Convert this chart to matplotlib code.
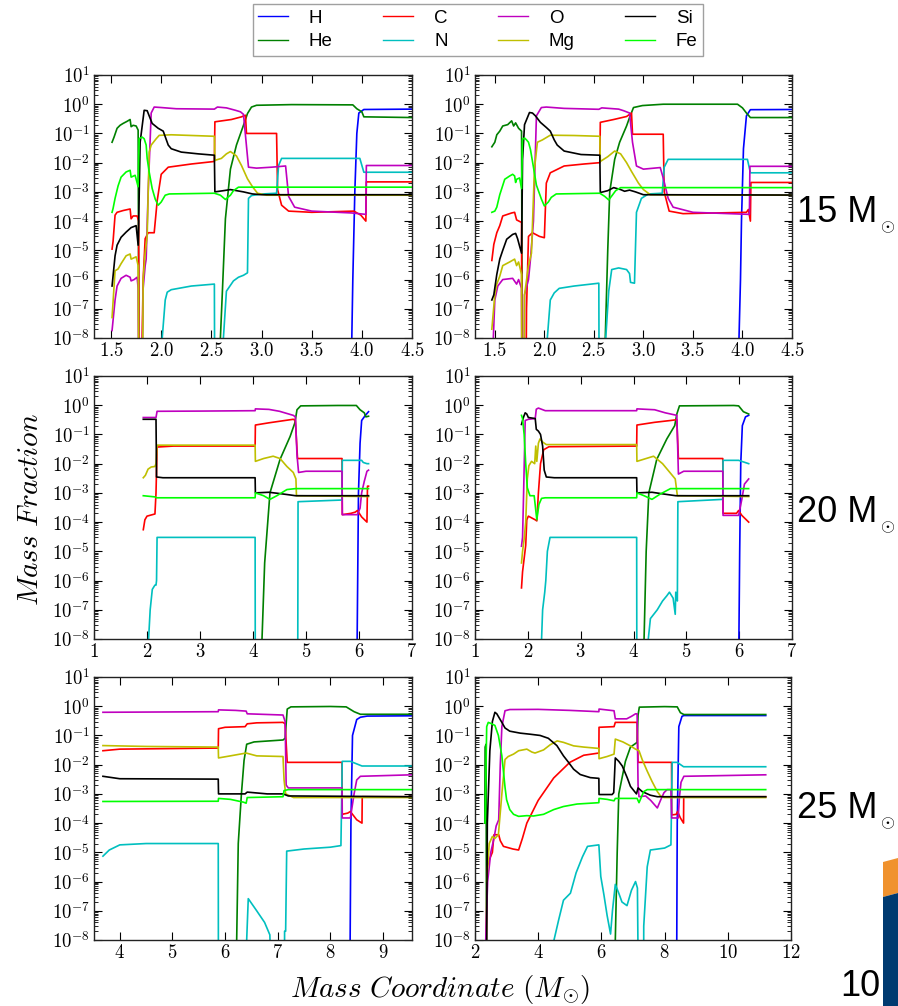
import numpy as np
import matplotlib.pyplot as plt
from matplotlib.patches import Polygon
from matplotlib.ticker import FuncFormatter, LogLocator, MultipleLocator, NullFormatter

plt.rcParams['mathtext.fontset'] = 'cm'
plt.rcParams['font.family'] = ['Liberation Sans', 'DejaVu Sans']

species = ['H', 'He', 'C', 'N', 'O', 'Mg', 'Si', 'Fe']
colors = ['b', 'g', 'r', 'c', 'm', 'y', 'k', 'lime']
OFF = 1e-12  # below the plotted range

# ---- 15 Msun, left ----
p15a = {
    'H': [(3.90, OFF), (3.90, 1e-8), (3.91, 1e-6), (3.93, 1e-3), (3.95, 0.1), (3.97, 0.5), (4.02, 0.66), (4.5, 0.68)],
    'He': [(1.51, 0.05), (1.53, 0.075), (1.56, 0.15), (1.59, 0.19), (1.62, 0.22), (1.66, 0.26), (1.69, 0.3), (1.70, 0.17),
           (1.72, 0.19), (1.75, 0.18), (1.77, 0.13), (1.78, OFF), (2.59, OFF), (2.59, 1e-8), (2.61, 4e-7), (2.64, 1.2e-4),
           (2.69, 6e-3), (2.75, 0.04), (2.82, 0.19), (2.86, 0.48), (2.90, 0.8), (2.95, 0.92), (3.3, 0.97), (3.91, 0.95),
           (3.95, 0.7), (4.0, 0.55), (4.02, 0.37), (4.5, 0.35)],
    'C': [(1.51, 1.1e-5), (1.52, 2e-5), (1.54, 1.6e-4), (1.56, 2e-4), (1.62, 2.3e-4), (1.69, 2.6e-4), (1.70, 1.2e-4),
          (1.72, 1.5e-4), (1.76, 1.5e-4), (1.775, 1e-4), (1.78, OFF), (1.79, OFF), (1.82, 1e-6), (1.84, 2.5e-5),
          (1.87, 4e-5), (1.93, 4e-5), (1.96, 5e-4), (2.0, 4e-3), (2.07, 7e-3), (2.3, 9e-3), (2.53, 1.1e-2),
          (2.535, 0.25), (2.7, 0.3), (2.8, 0.37), (2.84, 0.42), (2.85, 0.1), (3.15, 0.1), (3.16, 1.2e-3),
          (3.2, 3.5e-4), (3.27, 2.2e-4), (3.5, 2e-4), (3.92, 2.2e-4), (3.99, 1.6e-4), (4.04, 1e-4), (4.045, 2.2e-3),
          (4.5, 2.2e-3)],
    'N': [(2.01, OFF), (2.01, 1e-8), (2.04, 2e-7), (2.06, 3.7e-7), (2.1, 4.5e-7), (2.3, 6e-7), (2.53, 7e-7), (2.535, OFF),
          (2.62, OFF), (2.62, 1e-8), (2.65, 4e-7), (2.72, 9e-7), (2.77, 1.2e-6), (2.82, 1.4e-6), (2.86, 1.7e-6),
          (2.87, 6e-4), (2.9, 7.5e-4), (3.01, 8.5e-4), (3.15, 9e-4), (3.17, 8e-3), (3.2, 1.4e-2), (3.98, 1.4e-2),
          (4.02, 4.7e-3), (4.5, 4.7e-3)],
    'O': [(1.51, 1.8e-8), (1.54, 2e-7), (1.56, 6e-7), (1.6, 1.1e-6), (1.65, 1.4e-6), (1.69, 1.2e-6), (1.70, 9e-7),
          (1.73, 1e-6), (1.76, 1.2e-6), (1.77, 5e-7), (1.78, OFF), (1.80, OFF), (1.82, 5e-7), (1.84, 3e-6),
          (1.85, 5e-6), (1.87, 1e-3), (1.9, 0.5), (1.93, 0.8), (2.0, 0.77), (2.15, 0.7), (2.53, 0.68), (2.56, 0.8),
          (2.65, 0.75), (2.74, 0.62), (2.79, 0.55), (2.82, 0.45), (2.87, 7e-3), (2.95, 6.5e-3), (3.1, 7e-3),
          (3.24, 7.7e-3), (3.27, 7e-4), (3.33, 3e-4), (3.5, 2.2e-4), (3.9, 1.9e-4), (4.04, 1.7e-4), (4.045, 8e-3),
          (4.5, 8e-3)],
    'Mg': [(1.51, 5e-8), (1.54, 2e-6), (1.57, 2.3e-6), (1.6, 3.5e-6), (1.65, 6.5e-6), (1.69, 7.5e-6), (1.70, 5e-6),
           (1.75, 6e-6), (1.77, 3e-6), (1.78, OFF), (1.81, OFF), (1.82, 1e-6), (1.84, 8e-6), (1.86, 3e-5),
           (1.88, 2.3e-2), (1.9, 4e-2), (1.95, 0.066), (1.98, 0.086), (2.1, 0.09), (2.53, 0.08), (2.535, 1.2e-2),
           (2.6, 1.4e-2), (2.65, 2e-2), (2.69, 2.4e-2), (2.75, 1.7e-2), (2.8, 8e-3), (2.86, 2.8e-3), (2.91, 1.5e-3),
           (2.96, 9e-4), (3.05, 7.7e-4), (4.5, 7.7e-4)],
    'Si': [(1.51, 6e-7), (1.54, 6.5e-6), (1.56, 1.5e-5), (1.6, 2.8e-5), (1.65, 4.2e-5), (1.7, 6e-5), (1.75, 7e-5),
           (1.77, 1.5e-5), (1.775, 7e-5), (1.79, 0.05), (1.83, 0.62), (1.86, 0.6), (1.88, 0.4), (1.91, 0.22),
           (1.97, 0.15), (2.02, 0.12), (2.07, 0.04), (2.1, 0.03), (2.2, 0.023), (2.37, 0.02), (2.53, 0.018),
           (2.535, 1e-3), (2.62, 1.1e-3), (2.69, 1.2e-3), (2.82, 1e-3), (2.91, 8.5e-4), (3.0, 8e-4), (4.5, 8e-4)],
    'Fe': [(1.51, 2e-4), (1.52, 2.7e-4), (1.54, 6e-4), (1.57, 1.6e-3), (1.6, 3.2e-3), (1.65, 4.8e-3), (1.69, 5.5e-3),
           (1.70, 3.2e-3), (1.74, 3.7e-3), (1.77, 1.5e-3), (1.78, 0.066), (1.81, 0.075), (1.83, 0.066), (1.85, 0.04),
           (1.86, 0.014), (1.88, 4.8e-3), (1.91, 1.3e-3), (1.94, 5.7e-4), (1.97, 3.5e-4), (2.0, 4.5e-4),
           (2.04, 7.7e-4), (2.08, 8.5e-4), (2.53, 9e-4), (2.59, 7.7e-4), (2.64, 5.5e-4), (2.69, 7.7e-4),
           (2.72, 1.1e-3), (2.77, 1.45e-3), (4.5, 1.45e-3)],
}

# ---- 15 Msun, right ----
p15b = {
    'H': [(3.96, OFF), (3.965, 1e-8), (3.98, 1e-6), (3.99, 1e-4), (4.01, 3e-2), (4.04, 0.4), (4.08, 0.65), (4.5, 0.66)],
    'He': [(1.47, 0.035), (1.5, 0.05), (1.52, 0.09), (1.55, 0.12), (1.58, 0.18), (1.63, 0.2), (1.67, 0.27), (1.69, 0.18),
           (1.71, 0.23), (1.74, 0.15), (1.77, 0.12), (1.78, OFF), (2.6, OFF), (2.615, 1e-8), (2.64, 1e-5),
           (2.66, 1e-3), (2.71, 1.3e-2), (2.76, 5e-2), (2.83, 0.18), (2.86, 0.35), (2.9, 0.77), (2.99, 0.9),
           (3.2, 1.0), (3.95, 1.0), (4.0, 0.75), (4.04, 0.5), (4.08, 0.35), (4.5, 0.35)],
    'C': [(1.47, 4.5e-6), (1.49, 1.6e-5), (1.52, 4e-5), (1.55, 7e-5), (1.58, 1.5e-4), (1.67, 1.9e-4), (1.7, 2e-4),
          (1.72, 1.1e-4), (1.77, 9e-5), (1.775, OFF), (1.81, OFF), (1.82, 1e-7), (1.84, 3e-5), (1.88, 4e-5),
          (1.95, 3e-5), (2.0, 2.7e-5), (2.02, 2e-3), (2.06, 4.5e-3), (2.2, 7.7e-3), (2.4, 9e-3), (2.56, 1e-2),
          (2.565, 0.24), (2.7, 0.3), (2.83, 0.38), (2.88, 0.5), (2.89, 0.094), (3.2, 0.094), (3.21, 1e-3),
          (3.26, 2.2e-4), (3.4, 1.8e-4), (4.04, 2e-4), (4.06, 2.5e-4), (4.08, 1e-4), (4.085, 2.1e-3), (4.5, 2.1e-3)],
    'N': [(2.02, OFF), (2.03, 1e-8), (2.06, 2e-7), (2.1, 3.5e-7), (2.15, 5e-7), (2.3, 6e-7), (2.55, 7.5e-7), (2.555, OFF),
          (2.61, OFF), (2.62, 1e-8), (2.65, 4e-7), (2.68, 2.2e-6), (2.75, 2.5e-6), (2.83, 2.2e-6), (2.86, 1.6e-6),
          (2.87, 8e-7), (2.91, 7.5e-7), (2.93, 2e-4), (2.98, 6e-4), (3.05, 8.5e-4), (3.19, 9e-4), (3.21, 7e-3),
          (3.25, 1.3e-2), (4.05, 1.3e-2), (4.08, 4.5e-3), (4.5, 4.5e-3)],
    'O': [(1.48, OFF), (1.485, 1e-8), (1.5, 2e-7), (1.53, 6e-7), (1.58, 1e-6), (1.68, 1.1e-6), (1.72, 7e-7),
          (1.74, 1e-6), (1.77, 5e-7), (1.775, OFF), (1.79, OFF), (1.8, 3e-7), (1.84, 1e-6), (1.86, 5e-6),
          (1.89, 1e-4), (1.92, 0.4), (1.97, 0.77), (2.02, 0.8), (2.2, 0.72), (2.55, 0.67), (2.58, 0.75),
          (2.75, 0.68), (2.8, 0.6), (2.86, 0.5), (2.89, 0.05), (2.93, 7.7e-3), (3.0, 6e-3), (3.17, 6.8e-3),
          (3.2, 3e-3), (3.25, 6e-4), (3.3, 3e-4), (3.5, 2e-4), (4.07, 1.7e-4), (4.075, 7.5e-3), (4.5, 7.5e-3)],
    'Mg': [(1.47, 2e-8), (1.5, 3e-7), (1.52, 7e-7), (1.55, 1.3e-6), (1.58, 3e-6), (1.65, 4e-6), (1.7, 5e-6),
           (1.72, 3e-6), (1.74, 4e-6), (1.77, 1.5e-6), (1.775, OFF), (1.79, OFF), (1.8, 3e-7), (1.84, 3e-6),
           (1.87, 8e-6), (1.9, 6e-3), (1.93, 0.05), (1.98, 0.06), (2.06, 0.087), (2.3, 0.085), (2.56, 0.08),
           (2.565, 0.011), (2.64, 0.016), (2.71, 0.025), (2.77, 0.02), (2.83, 0.01), (2.88, 5e-3), (2.95, 2e-3),
           (3.0, 1.2e-3), (3.07, 8e-4), (4.5, 7.7e-4)],
    'Si': [(1.47, 2e-7), (1.49, 3e-7), (1.52, 1.5e-6), (1.55, 5e-6), (1.58, 1e-5), (1.62, 2.4e-5), (1.68, 3.5e-5),
           (1.71, 3.8e-5), (1.73, 2.5e-5), (1.75, 1.4e-5), (1.77, 8e-6), (1.78, 1.3e-2), (1.8, 0.2), (1.85, 0.52),
           (1.88, 0.5), (1.91, 0.4), (1.96, 0.24), (2.02, 0.16), (2.06, 0.12), (2.1, 0.06), (2.13, 0.04),
           (2.2, 0.025), (2.37, 0.019), (2.56, 0.018), (2.565, 9.5e-4), (2.64, 1.1e-3), (2.7, 1.4e-3),
           (2.77, 1.2e-3), (2.81, 1.05e-3), (2.86, 1.15e-3), (2.92, 1e-3), (3.0, 8e-4), (4.5, 7.8e-4)],
    'Fe': [(1.47, 2e-4), (1.5, 2.2e-4), (1.52, 3e-4), (1.55, 8e-4), (1.57, 1.3e-3), (1.6, 2.7e-3), (1.65, 3.5e-3),
           (1.68, 4e-3), (1.7, 3.5e-3), (1.71, 2.1e-3), (1.72, 2.7e-3), (1.75, 3e-3), (1.77, 1.3e-3), (1.78, 0.063),
           (1.8, 0.07), (1.82, 0.06), (1.84, 0.05), (1.86, 0.028), (1.89, 7e-3), (1.92, 1.7e-3), (1.97, 5.7e-4),
           (2.0, 3.3e-4), (2.04, 4.5e-4), (2.07, 6.5e-4), (2.12, 8.5e-4), (2.56, 9e-4), (2.61, 7e-4),
           (2.65, 5.3e-4), (2.69, 8e-4), (2.72, 1.1e-3), (2.77, 1.4e-3), (4.5, 1.4e-3)],
}

# ---- 20 Msun, left ----
p20a = {
    'H': [(5.96, OFF), (5.965, 1e-8), (5.98, 1e-5), (5.99, 1e-3), (6.02, 0.05), (6.05, 0.3), (6.12, 0.45), (6.18, 0.6)],
    'He': [(4.16, OFF), (4.17, 1e-8), (4.22, 4e-6), (4.32, 1e-3), (4.51, 1.4e-2), (4.7, 8.5e-2), (4.79, 0.25),
           (4.83, 0.7), (4.9, 0.95), (5.6, 0.98), (5.95, 0.98), (6.02, 0.7), (6.1, 0.55), (6.13, 0.4), (6.18, 0.42)],
    'C': [(1.93, 5.5e-5), (1.96, 1.2e-4), (2.0, 1.6e-4), (2.15, 1.9e-4), (2.17, 1e-3), (2.19, 0.037), (2.5, 0.04),
          (4.04, 0.04), (4.045, 0.21), (4.3, 0.25), (4.6, 0.3), (4.76, 0.33), (4.8, 0.3), (4.84, 0.015),
          (5.68, 0.015), (5.685, 1.8e-4), (5.85, 2e-4), (5.93, 2.2e-4), (5.97, 2.5e-4), (6.05, 1.5e-4),
          (6.15, 1e-4), (6.16, 1.7e-3), (6.18, 1.7e-3)],
    'N': [(2.02, OFF), (2.03, 1e-8), (2.06, 1e-7), (2.1, 5e-7), (2.15, 7e-7), (2.17, 7e-7), (2.18, 1e-6), (2.19, 3e-5),
          (4.04, 3e-5), (4.045, OFF), (4.84, OFF), (4.845, 1e-8), (4.85, 5e-4), (5.68, 5.7e-4), (5.685, 1.3e-2),
          (6.05, 1.3e-2), (6.08, 1.1e-2), (6.15, 1.0e-2), (6.18, 1.0e-2)],
    'O': [(1.93, 0.38), (2.17, 0.38), (2.19, 0.62), (3.0, 0.63), (4.04, 0.65), (4.045, 0.75), (4.3, 0.72),
          (4.5, 0.62), (4.76, 0.45), (4.8, 0.4), (4.83, 0.02), (4.86, 5e-3), (5.0, 5.5e-3), (5.68, 5.5e-3),
          (5.685, 1.8e-4), (5.97, 1.8e-4), (6.02, 3e-4), (6.05, 1e-3), (6.1, 2.5e-3), (6.15, 5.5e-3), (6.18, 6e-3)],
    'Mg': [(1.93, 3.3e-3), (1.97, 4e-3), (2.02, 6.5e-3), (2.08, 7.7e-3), (2.15, 8e-3), (2.17, 1e-2), (2.19, 0.043),
           (4.04, 0.043), (4.045, 0.012), (4.2, 0.015), (4.38, 0.018), (4.51, 0.015), (4.64, 8e-3), (4.76, 5e-3),
           (4.81, 3e-3), (4.82, 8e-4), (6.18, 7.5e-4)],
    'Si': [(1.93, 0.33), (2.17, 0.33), (2.18, 3.5e-3), (2.3, 3.3e-3), (4.04, 3.3e-3), (4.045, 1e-3), (4.3, 1.05e-3),
           (4.5, 9.5e-4), (4.7, 8.5e-4), (4.8, 8e-4), (6.18, 8e-4)],
    'Fe': [(1.93, 8e-4), (2.15, 7.3e-4), (2.18, 6.8e-4), (4.04, 6.8e-4), (4.045, 1e-3), (4.2, 8e-4), (4.32, 6e-4),
           (4.45, 8e-4), (4.64, 1.3e-3), (4.8, 1.4e-3), (6.18, 1.4e-3)],
}

# ---- 20 Msun, right ----
p20b = {
    'H': [(5.99, OFF), (5.995, 1e-8), (6.01, 1e-5), (6.03, 1e-2), (6.06, 0.2), (6.12, 0.4), (6.18, 0.45)],
    'He': [(4.19, OFF), (4.2, 1e-8), (4.24, 1e-5), (4.29, 1e-3), (4.44, 1.4e-2), (4.63, 7e-2), (4.78, 0.2),
           (4.82, 0.5), (4.87, 0.95), (5.9, 0.98), (5.99, 0.95), (6.08, 0.6), (6.18, 0.5)],
    'C': [(1.88, 5.6e-7), (1.9, 2e-6), (1.92, 4e-6), (1.96, 1.6e-5), (1.98, 1.2e-4), (2.01, 1.6e-4), (2.07, 1.4e-4),
          (2.14, 1.2e-4), (2.17, 1.1e-4), (2.2, 1e-3), (2.24, 1e-2), (2.3, 3e-2), (2.4, 0.038), (4.06, 0.04),
          (4.065, 0.21), (4.4, 0.26), (4.7, 0.3), (4.82, 0.32), (4.85, 0.015), (5.69, 0.015), (5.695, 2e-4),
          (5.95, 2e-4), (5.99, 2.5e-4), (6.05, 1.7e-4), (6.18, 1e-4)],
    'N': [(2.25, OFF), (2.26, 1e-8), (2.28, 1e-7), (2.32, 4e-7), (2.34, 1e-6), (2.37, 1e-5), (2.42, 3e-5), (4.06, 3e-5),
          (4.065, OFF), (4.27, OFF), (4.28, 1e-8), (4.32, 5e-8), (4.45, 1e-7), (4.55, 2e-7), (4.63, 3e-7),
          (4.68, 4e-7), (4.75, 2.5e-7), (4.79, 7e-8), (4.8, 4e-7), (4.83, 2e-7), (4.84, 5e-4), (5.69, 6e-4),
          (5.695, 1.3e-2), (5.99, 1.3e-2), (6.18, 1e-2)],
    'O': [(1.88, 1.5e-5), (1.9, 3e-5), (1.92, 1e-3), (1.95, 0.3), (2.01, 0.33), (2.14, 0.35), (2.16, 0.73),
          (2.2, 0.8), (2.33, 0.65), (4.06, 0.65), (4.065, 0.75), (4.4, 0.7), (4.6, 0.55), (4.82, 0.45),
          (4.85, 4.4e-3), (4.95, 5.5e-3), (5.69, 5.5e-3), (5.695, 1.7e-4), (5.99, 1.7e-4), (6.05, 6e-4),
          (6.1, 2e-3), (6.18, 3e-3)],
    'Mg': [(1.88, 4e-6), (1.9, 1e-5), (1.93, 2.6e-5), (1.96, 1e-4), (1.99, 3e-3), (2.02, 8.5e-3), (2.07, 1.2e-2),
           (2.13, 1e-2), (2.15, 4e-2), (2.17, 1.2e-2), (2.2, 0.05), (2.23, 0.07), (2.28, 0.055), (2.35, 0.045),
           (4.06, 0.045), (4.065, 0.012), (4.38, 0.018), (4.55, 0.01), (4.79, 3e-3), (4.83, 8e-4), (6.18, 7.5e-4)],
    'Si': [(1.88, 0.22), (1.92, 0.4), (1.95, 0.55), (1.98, 0.5), (2.01, 0.38), (2.14, 0.35), (2.16, 0.15),
           (2.2, 0.13), (2.24, 0.1), (2.28, 0.04), (2.31, 6e-3), (2.35, 3.5e-3), (2.5, 3.3e-3), (4.06, 3.3e-3),
           (4.065, 1e-3), (4.35, 1.05e-3), (4.6, 9e-4), (4.8, 8e-4), (6.18, 8e-4)],
    'Fe': [(1.88, 0.45), (1.9, 0.35), (1.93, 0.1), (1.96, 0.01), (1.99, 1.5e-3), (2.04, 8e-4), (2.12, 8e-4),
           (2.17, 1.2e-4), (2.21, 4e-4), (2.26, 6.5e-4), (2.33, 6.8e-4), (4.06, 6.8e-4), (4.065, 1e-3), (4.2, 8e-4),
           (4.35, 6e-4), (4.5, 9e-4), (4.7, 1.4e-3), (6.18, 1.4e-3)],
}

# ---- 25 Msun, left ----
p25a = {
    'H': [(8.37, OFF), (8.375, 1e-8), (8.39, 1e-4), (8.42, 0.1), (8.5, 0.35), (8.57, 0.42), (8.7, 0.46), (9.55, 0.47)],
    'He': [(6.21, OFF), (6.22, 1e-8), (6.25, 2e-5), (6.31, 1e-3), (6.36, 1.4e-2), (6.41, 5e-2), (6.55, 6e-2),
           (7.1, 7e-2), (7.14, 8e-2), (7.18, 0.8), (7.25, 0.95), (8.0, 0.98), (8.3, 0.95), (8.45, 0.65),
           (8.57, 0.53), (9.55, 0.53)],
    'C': [(3.68, 0.03), (4.0, 0.034), (5.87, 0.037), (5.875, 0.17), (6.0, 0.19), (6.38, 0.2), (6.42, 0.25),
          (6.6, 0.27), (7.1, 0.28), (7.14, 0.25), (7.18, 0.012), (8.22, 0.012), (8.225, 2e-4), (8.33, 2.2e-4),
          (8.38, 2.5e-4), (8.42, 2e-4), (8.5, 1.3e-4), (8.6, 1e-4), (8.605, 8e-4), (9.55, 8e-4)],
    'N': [(3.68, 7.4e-6), (3.8, 1.2e-5), (4.0, 1.8e-5), (4.5, 2e-5), (5.87, 2e-5), (5.875, OFF), (6.4, OFF),
          (6.41, 1e-8), (6.44, 2.6e-7), (6.6, 1e-7), (6.75, 4e-8), (6.85, 1.5e-8), (6.92, OFF), (7.12, OFF),
          (7.13, 2e-8), (7.15, 2e-8), (7.17, 1.1e-5), (7.5, 1.3e-5), (8.0, 1.5e-5), (8.2, 1.7e-5), (8.225, 1.3e-2),
          (8.38, 1.3e-2), (8.6, 9e-3), (9.55, 9e-3)],
    'O': [(3.68, 0.62), (5.87, 0.65), (5.875, 0.75), (6.2, 0.72), (6.4, 0.68), (6.42, 0.55), (7.1, 0.5),
          (7.14, 0.3), (7.16, 2e-3), (7.2, 1.6e-3), (8.22, 1.6e-3), (8.225, 1.5e-4), (8.38, 1.5e-4), (8.45, 1e-3),
          (8.5, 3e-3), (8.57, 4e-3), (9.55, 4.5e-3)],
    'Mg': [(3.68, 0.045), (4.5, 0.042), (5.87, 0.04), (5.875, 0.017), (6.1, 0.02), (6.4, 0.025), (6.6, 0.02),
           (7.1, 0.019), (7.12, 3e-3), (7.15, 1e-3), (7.3, 7.5e-4), (9.55, 7.5e-4)],
    'Si': [(3.68, 4e-3), (4.0, 3.3e-3), (5.87, 3.2e-3), (5.875, 1e-3), (6.38, 1e-3), (6.42, 1.15e-3), (6.8, 1e-3),
           (7.1, 1e-3), (7.2, 8.5e-4), (9.55, 8e-4)],
    'Fe': [(3.68, 5.5e-4), (5.87, 5.6e-4), (5.875, 7e-4), (6.1, 6.5e-4), (6.35, 5.2e-4), (6.4, 4.8e-4),
           (6.42, 7.5e-4), (7.1, 8e-4), (7.12, 1.3e-3), (7.2, 1.4e-3), (9.55, 1.4e-3)],
}

# ---- 25 Msun, right ----
p25b = {
    'H': [(8.38, OFF), (8.385, 1e-8), (8.4, 1e-4), (8.45, 0.2), (8.55, 0.45), (8.61, 0.48), (11.2, 0.48)],
    'He': [(2.31, 1e-4), (2.32, 0.04), (2.35, 0.05), (2.37, OFF), (6.43, OFF), (6.44, 1e-8), (6.5, 1e-5),
           (6.55, 1e-3), (6.76, 1.3e-2), (6.92, 4e-2), (7.13, 5.8e-2), (7.16, 0.5), (7.2, 0.93), (8.0, 0.97),
           (8.4, 0.95), (8.5, 0.6), (8.61, 0.52), (11.2, 0.52)],
    'C': [(2.35, OFF), (2.36, 1e-8), (2.38, 3e-6), (2.45, 5.5e-6), (2.55, 1e-5), (2.6, 4e-5), (2.75, 4e-5),
          (2.8, 2.5e-5), (2.9, 1.6e-5), (3.2, 1.3e-5), (3.38, 1.2e-5), (3.5, 3e-5), (3.64, 1e-4), (4.0, 6e-4),
          (4.49, 3.5e-3), (5.0, 1.2e-2), (5.44, 2.1e-2), (5.92, 2.5e-2), (5.925, 0.19), (6.4, 0.2), (6.44, 0.28),
          (7.13, 0.28), (7.16, 0.012), (8.22, 0.012), (8.225, 1.9e-4), (8.37, 2e-4), (8.41, 2.5e-4), (8.5, 1.5e-4),
          (8.6, 1e-4), (8.605, 8e-4), (11.2, 8e-4)],
    'N': [(4.49, OFF), (4.5, 1e-8), (4.65, 5e-8), (4.8, 2.3e-7), (5.02, 4e-7), (5.2, 2e-6), (5.4, 7e-6),
          (5.56, 1.6e-5), (5.92, 1.8e-5), (5.98, 1.5e-6), (6.08, 3.5e-7), (6.18, 7e-8), (6.29, 1.6e-8),
          (6.35, 1e-7), (6.44, 8e-7), (6.55, 4e-7), (6.65, 2e-7), (6.81, 1.5e-7), (6.95, 5e-7), (7.08, 1e-6),
          (7.14, 6e-7), (7.19, OFF), (7.33, OFF), (7.34, 3e-8), (7.45, 3.2e-6), (7.55, 1.2e-5), (8.0, 1.4e-5),
          (8.2, 1.8e-5), (8.24, 1.2e-2), (8.4, 1.2e-2), (8.6, 8.5e-3), (11.2, 8.5e-3)],
    'O': [(2.33, OFF), (2.34, 1e-8), (2.4, 1e-6), (2.5, 1e-5), (2.6, 3e-5), (2.67, 8e-5), (2.75, 1.3e-4),
          (2.8, 0.01), (2.85, 0.2), (2.95, 0.7), (3.1, 0.77), (4.0, 0.78), (5.0, 0.72), (5.92, 0.65),
          (5.925, 0.8), (6.4, 0.7), (6.44, 0.37), (6.8, 0.37), (6.95, 0.45), (7.08, 0.55), (7.13, 0.55),
          (7.16, 2e-3), (7.19, 8e-4), (7.4, 8.5e-4), (7.56, 6e-4), (7.77, 3.3e-4), (7.87, 6e-4), (7.98, 1.1e-3),
          (8.08, 1.4e-3), (8.2, 1.4e-3), (8.225, 1.5e-4), (8.43, 1.5e-4), (8.47, 8e-4), (8.52, 2.5e-3),
          (8.61, 4e-3), (11.2, 4.5e-3)],
    'Mg': [(2.37, 1e-6), (2.45, 2e-5), (2.55, 3.5e-5), (2.63, 3e-5), (2.74, 4e-5), (2.85, 1e-3), (2.95, 1.5e-2),
           (3.05, 1.9e-2), (3.22, 2.3e-2), (3.38, 3e-2), (3.64, 3.4e-2), (3.8, 2.7e-2), (3.9, 2.5e-2),
           (4.17, 3.2e-2), (4.38, 4.8e-2), (4.6, 6.5e-2), (4.8, 5.8e-2), (5.12, 4.4e-2), (5.44, 4e-2),
           (5.92, 3.6e-2), (5.925, 1.6e-2), (6.18, 1.9e-2), (6.4, 2.3e-2), (6.44, 7.5e-2), (6.68, 6e-2),
           (6.9, 4.5e-2), (7.08, 3.4e-2), (7.19, 3e-2), (7.29, 1.5e-2), (7.45, 6e-3), (7.6, 2.7e-3),
           (7.77, 1.2e-3), (7.87, 8.5e-4), (7.98, 7.5e-4), (11.2, 7.5e-4)],
    'Si': [(2.35, OFF), (2.37, 1e-8), (2.39, 1e-4), (2.47, 0.03), (2.55, 0.3), (2.63, 0.62), (2.69, 0.55),
           (2.85, 0.28), (2.95, 0.18), (3.1, 0.14), (3.43, 0.12), (3.75, 0.11), (4.06, 0.1), (4.32, 0.08),
           (4.59, 0.045), (4.8, 0.02), (4.96, 0.012), (5.12, 7e-3), (5.33, 4.6e-3), (5.65, 3.6e-3),
           (5.92, 3.4e-3), (5.925, 9.5e-4), (6.34, 9.5e-4), (6.39, 1.1e-3), (6.44, 1.7e-2), (6.55, 1.3e-2),
           (6.66, 9e-3), (6.82, 3.5e-3), (6.92, 1.8e-3), (7.05, 1.2e-3), (7.11, 1e-3), (7.16, 1.6e-3),
           (7.29, 1.2e-3), (7.55, 9e-4), (7.77, 8e-4), (11.2, 8e-4)],
    'Fe': [(2.32, 1e-4), (2.37, 0.2), (2.42, 0.28), (2.53, 0.25), (2.63, 0.22), (2.74, 0.1), (2.85, 0.02),
           (2.95, 1.7e-3), (3.0, 6.3e-4), (3.1, 2.9e-4), (3.22, 2e-4), (3.38, 1.7e-4), (3.64, 1.8e-4),
           (3.85, 1.75e-4), (4.17, 2e-4), (4.49, 2.9e-4), (4.8, 3.7e-4), (5.23, 4.5e-4), (5.92, 5e-4),
           (5.925, 7e-4), (6.18, 6.5e-4), (6.4, 5.8e-4), (6.44, 7e-4), (7.13, 7e-4), (7.19, 5e-4), (7.34, 1.2e-3),
           (7.45, 1.4e-3), (11.2, 1.4e-3)],
}

# panel data, x ranges and tick steps, positions in pixels (left, top, right, bottom)
panels = [p15a, p15b, p20a, p20b, p25a, p25b]
xlims = [(1.33, 4.5), (1.30, 4.5), (1, 7), (1, 7), (3.51, 9.55), (2, 12)]
xsteps = [0.5, 0.5, 1, 1, 1, 2]
xfmts = ['%.1f', '%.1f', '%d', '%d', '%d', '%d']
boxes = [(94, 75, 412, 338), (475, 75, 792, 338),
         (94, 376, 412, 639), (475, 376, 792, 639),
         (94, 677, 412, 940), (475, 677, 791, 940)]
masses = ['15', '20', '25']

W, H = 898, 1006
fig = plt.figure(figsize=(W / 100, H / 100), dpi=100)


def to_fig(l, t, r, b):
    return [l / W, 1 - b / H, (r - l) / W, (b - t) / H]


for data, xl, st, fm, box in zip(panels, xlims, xsteps, xfmts, boxes):
    ax = fig.add_axes(to_fig(*box))
    for sp, col in zip(species, colors):
        pts = np.array(data[sp])
        ax.plot(pts[:, 0], pts[:, 1], color=col, lw=1.2, label=sp)
    ax.set_yscale('log')
    ax.set_ylim(1e-8, 1e1)
    ax.set_xlim(*xl)
    ax.xaxis.set_major_locator(MultipleLocator(st))
    ax.xaxis.set_major_formatter(FuncFormatter(lambda v, p, f=fm: '$' + (f % v) + '$'))
    ax.yaxis.set_major_locator(LogLocator(base=10, numticks=20))
    ax.yaxis.set_minor_locator(LogLocator(base=10, subs=np.arange(2, 10), numticks=20))
    ax.yaxis.set_minor_formatter(NullFormatter())
    ax.yaxis.set_major_formatter(FuncFormatter(lambda v, p: r'$10^{%d}$' % round(np.log10(v))))
    ax.tick_params(which='both', direction='in', top=True, right=True, labelsize=13.5)
    ax.tick_params(axis='x', pad=3)
    ax.tick_params(axis='y', pad=3)
    ax.tick_params(which='major', length=6, width=0.8)
    ax.tick_params(which='minor', length=3, width=0.6)
    for s in ax.spines.values():
        s.set_linewidth(1.0)
        s.set_color('#222222')

handles = [plt.Line2D([], [], color=c, lw=1.0) for c in colors]
fig.legend(handles, species, ncol=4, loc='upper center', bbox_to_anchor=(478 / W, 1 - 4 / H),
           fontsize=13.5, frameon=True, fancybox=False, edgecolor='#888888', handlelength=1.6,
           handletextpad=1.1, columnspacing=2.7, labelspacing=0.35, borderpad=0.3, borderaxespad=0)

# mass labels at the right of each row
for m, base in zip(masses, [222, 522, 818]):
    fig.text(797 / W, 1 - base / H, m + ' M', fontsize=26, ha='left', va='baseline')
    fig.text(887 / W, 1 - (base + 5) / H, r'$\odot$', fontsize=13, ha='center', va='center')

fig.text(30 / W, 1 - 510 / H, r'$Mass\ Fraction$', rotation=90, fontsize=21, ha='center', va='center')
fig.text(440 / W, 1 - 990 / H, r'$Mass\ Coordinate\ (M_{\odot})$', fontsize=21, ha='center', va='center')

# slide decoration and page number at the lower right
fig.add_artist(Polygon([(883 / W, 1 - 862 / H), (1, 1 - 858 / H), (1, 1 - 893 / H), (883 / W, 1 - 897 / H)],
                       closed=True, transform=fig.transFigure, color='#F0922E', lw=0))
fig.add_artist(Polygon([(883 / W, 1 - 897 / H), (1, 1 - 893 / H), (1, 0), (883 / W, 0)],
                       closed=True, transform=fig.transFigure, color='#003A70', lw=0))
fig.text(880 / W, 1 - 1004 / H, '10', fontsize=26, ha='right', va='bottom')

fig.savefig('out.png', dpi=100, facecolor='white')
